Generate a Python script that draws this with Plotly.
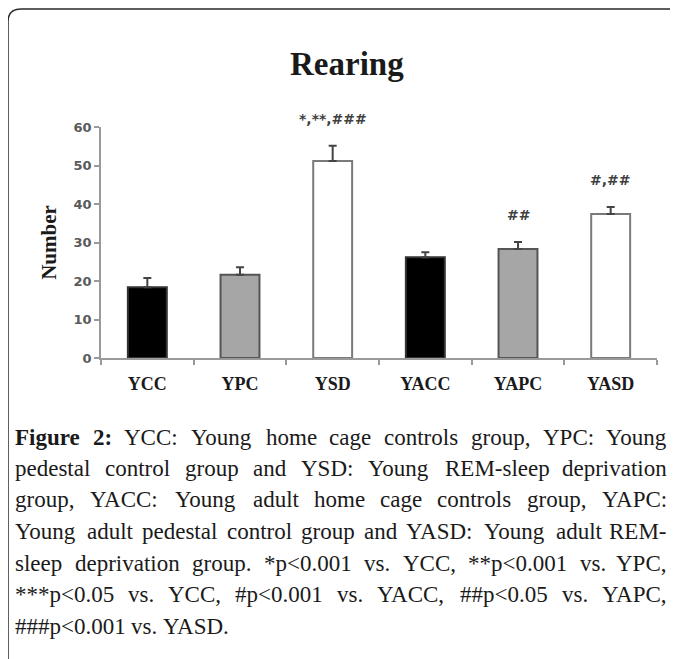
import plotly.graph_objects as go

# ---------------- data ----------------
categories = ["YCC", "YPC", "YSD", "YACC", "YAPC", "YASD"]
means = [18.4, 21.6, 51.2, 26.2, 28.3, 37.4]
sem = [2.4, 2.0, 3.9, 1.3, 1.8, 1.8]
sig_labels = ["", "", "*,**,###", "", "##", "#,##"]
y_ticks = [0, 10, 20, 30, 40, 50, 60]

title_text = "Rearing"
y_title = "Number"
caption_lines = [
    "<b>Figure</b> <b>2:</b> YCC: Young home cage controls group, YPC: Young",
    "pedestal control group and YSD: Young REM-sleep deprivation",
    "group, YACC: Young adult home cage controls group, YAPC:",
    "Young adult pedestal control group and YASD: Young adult REM-",
    "sleep deprivation group. *p<0.001 vs. YCC, **p<0.001 vs. YPC,",
    "***p<0.05 vs. YCC, #p<0.001 vs. YACC, ##p<0.05 vs. YAPC,",
    "###p<0.001 vs. YASD.",
]

# ---------------- styles ----------------
fill_colors = ["#000000", "#a6a6a6", "#ffffff", "#000000", "#a6a6a6", "#ffffff"]
line_colors = ["#333333", "#555555", "#7a7a7a", "#333333", "#555555", "#7a7a7a"]

OFF = 8  # default page body margin
W_FIG, H_FIG = 678 - OFF, 659 - OFF
L, R, T, B = 101, 657, 127, 358  # plot area in page pixels
PW, PH = R - L, B - T


def px(x):
    return (x - L) / PW


def py(y):
    return (B - y) / PH


fig = go.Figure()
fig.add_trace(go.Bar(
    x=categories, y=means, width=0.42,
    marker=dict(color=fill_colors, line=dict(color=line_colors, width=2)),
    error_y=dict(type="data", symmetric=False, array=sem,
                 arrayminus=[0] * len(sem), color="#444444",
                 thickness=2, width=4),
    showlegend=False,
))

# significance labels
for c, m, s, lab in zip(categories, means, sem, sig_labels):
    if lab:
        fig.add_annotation(x=c, y=m + s, xref="x", yref="y", text=lab,
                           showarrow=False, yanchor="middle", yshift=27,
                           font=dict(family="DejaVu Sans", size=14,
                                     color="#404040", weight="bold"))

# title
fig.add_annotation(x=px(347), y=py(64), xref="paper", yref="paper",
                   text="<b>" + title_text + "</b>", showarrow=False,
                   xanchor="center", yanchor="middle",
                   font=dict(family="Liberation Serif", size=33, color="#1a1a1a"))

# ---------------- caption (justified) ----------------
W_REG = {' ': 250, 'a': 444, 'b': 500, 'c': 444, 'd': 500, 'e': 444, 'f': 333,
         'g': 500, 'h': 500, 'i': 278, 'j': 278, 'k': 500, 'l': 278, 'm': 778,
         'n': 500, 'o': 500, 'p': 500, 'q': 500, 'r': 333, 's': 389, 't': 278,
         'u': 500, 'v': 500, 'w': 722, 'x': 500, 'y': 500, 'z': 444,
         'A': 722, 'B': 667, 'C': 667, 'D': 722, 'E': 611, 'F': 556, 'G': 722,
         'H': 722, 'I': 333, 'J': 389, 'K': 722, 'L': 611, 'M': 889, 'N': 722,
         'O': 722, 'P': 556, 'Q': 722, 'R': 667, 'S': 556, 'T': 611, 'U': 722,
         'V': 722, 'W': 944, 'X': 722, 'Y': 722, 'Z': 611,
         '.': 250, ',': 250, ':': 278, ';': 278, '-': 333, '*': 500, '#': 500,
         '<': 564}
for d in "0123456789":
    W_REG[d] = 500
W_BOLD = dict(W_REG)
W_BOLD.update({'F': 611, 'i': 278, 'g': 500, 'u': 556, 'r': 444, 'e': 444,
               '2': 500, ':': 333})

CAP_SIZE = 23
CAP_LEFT, CAP_RIGHT = 14, 668
CAP_Y0, CAP_DY = 437, 31.5


def word_width(w):
    bold = w.startswith("<b>")
    raw = w.replace("<b>", "").replace("</b>", "")
    table = W_BOLD if bold else W_REG
    return sum(table.get(ch, 500) for ch in raw) / 1000.0 * CAP_SIZE


for i, line in enumerate(caption_lines):
    words = line.split(" ")
    yy = py(CAP_Y0 + i * CAP_DY)
    widths = [word_width(w) for w in words]
    last = i == len(caption_lines) - 1
    if last or len(words) == 1:
        gap = 0.25 * CAP_SIZE
    else:
        gap = (CAP_RIGHT - CAP_LEFT - sum(widths)) / (len(words) - 1)
    xcur = CAP_LEFT
    for j, (w, ww) in enumerate(zip(words, widths)):
        txt = w.replace("<b>", "@@B").replace("</b>", "@@E")
        txt = txt.replace("<", "&lt;").replace("@@B", "<b>").replace("@@E", "</b>")
        if (not last) and j == len(words) - 1 and len(words) > 1:
            xa, xpos = "right", px(CAP_RIGHT)
        else:
            xa, xpos = "left", px(xcur)
        fig.add_annotation(x=xpos, y=yy, xref="paper", yref="paper",
                           text=txt, showarrow=False, xanchor=xa,
                           yanchor="middle", borderpad=0,
                           font=dict(family="Liberation Serif", size=CAP_SIZE,
                                     color="#1a1a1a"))
        xcur += ww + gap

# frame with rounded top-left corner
fig.add_shape(type="path", xref="paper", yref="paper",
              path=(f"M {px(8)},{py(680)} L {px(8)},{py(22)} "
                    f"Q {px(8)},{py(9)} {px(21)},{py(9)} L {px(700)},{py(9)}"),
              line=dict(color="#2a2a2a", width=1.5))

fig.update_layout(
    width=W_FIG, height=H_FIG,
    margin=dict(l=L - OFF, r=W_FIG - (R - OFF), t=T - OFF, b=H_FIG - (B - OFF)),
    paper_bgcolor="white", plot_bgcolor="white",
    bargap=0.58,
    xaxis=dict(type="category", range=[-0.5, 5.5], showline=True,
               linecolor="#9a9a9a", linewidth=1.5, ticks="outside",
               tickson="boundaries", ticklen=5, tickcolor="#9a9a9a",
               tickwidth=1.5, showgrid=False, zeroline=False,
               ticklabelstandoff=9,
               tickfont=dict(family="Liberation Serif", size=18,
                             color="#1a1a1a", weight="bold")),
    yaxis=dict(range=[0, 60], tickvals=y_ticks, showline=True,
               linecolor="#9a9a9a", linewidth=1.5, ticks="outside",
               ticklen=5, tickcolor="#9a9a9a", tickwidth=1.5,
               showgrid=False, zeroline=False,
               tickfont=dict(family="DejaVu Sans", size=13, color="#5a5a5a",
                             weight="bold"),
               title=dict(text="<b>" + y_title + "</b>", standoff=11,
                          font=dict(family="Liberation Serif", size=21,
                                    color="#1a1a1a"))),
)

fig.write_html("out.html")
